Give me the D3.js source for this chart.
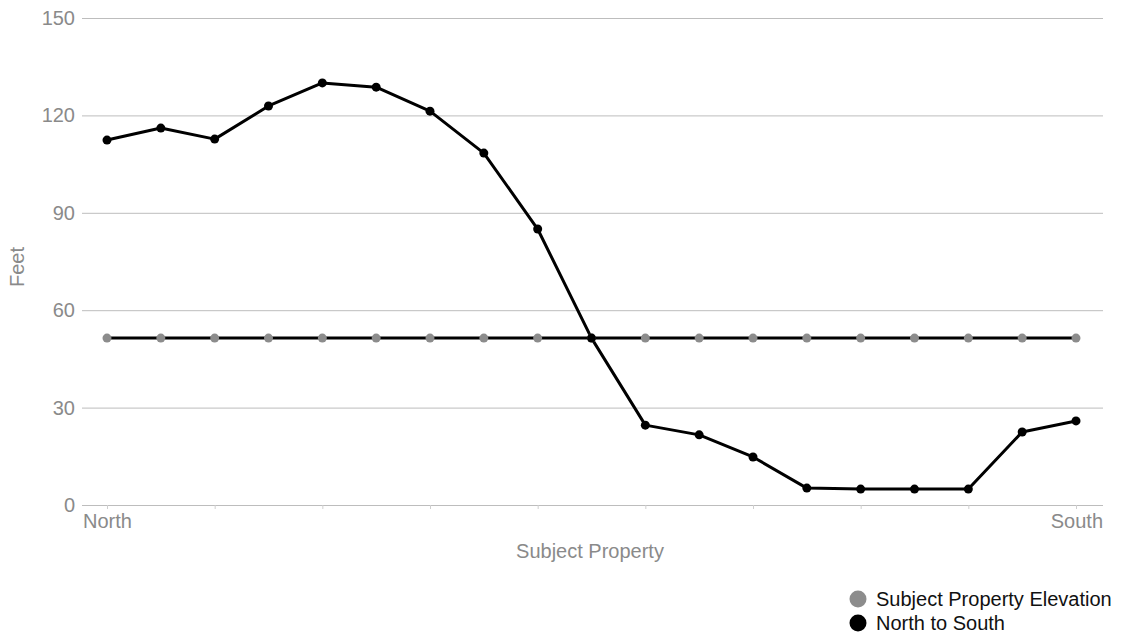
<!DOCTYPE html>
<html>
<head>
<meta charset="utf-8">
<script src="https://cdn.jsdelivr.net/npm/d3@7"></script>
<style>
  body { margin: 0; background: #fff; }
  text { font-family: "Liberation Sans", Arial, sans-serif; }
</style>
</head>
<body>
<div id="chart"></div>
<script>
const positions = d3.range(19);
const northToSouth = [112.4, 116.1, 112.7, 122.9, 130, 128.7, 121.3, 108.4, 85, 51.4,
  24.6, 21.6, 14.8, 5.2, 4.9, 4.9, 4.9, 22.5, 25.9];
const elevation = positions.map(() => 51.4);
const yTicks = [0, 30, 60, 90, 120, 150];
const seriesNames = ["Subject Property Elevation", "North to South"];

const width = 1121, height = 641;
const svg = d3.select("#chart").append("svg")
    .attr("width", width)
    .attr("height", height);

const x = d3.scaleLinear().domain([0, 18]).range([107, 1076]);
const y = d3.scaleLinear().domain([0, 150]).range([505, 18]);

// gridlines
svg.append("g")
    .attr("transform", "translate(82,0)")
    .call(d3.axisLeft(y).tickValues(yTicks).tickSize(-1021).tickPadding(7))
    .call(g => g.select(".domain").remove())
    .call(g => g.selectAll(".tick line").attr("stroke", "#bdbdbd"))
    .call(g => g.selectAll(".tick text").attr("fill", "#8a8a8a").attr("font-size", 20));

// x ticks every other point
svg.append("g")
    .attr("transform", "translate(0,505)")
    .call(d3.axisBottom(x).tickValues(d3.range(0, 19, 2)).tickSize(4).tickFormat(""))
    .call(g => g.select(".domain").remove())
    .call(g => g.selectAll(".tick line").attr("stroke", "#cfcfcf"));

svg.append("text").attr("x", 83).attr("y", 528).attr("fill", "#8a8a8a")
    .attr("font-size", 20).text("North");
svg.append("text").attr("x", 1103).attr("y", 528).attr("fill", "#8a8a8a")
    .attr("font-size", 20).attr("text-anchor", "end").text("South");

svg.append("text").attr("x", 590).attr("y", 558).attr("fill", "#8a8a8a")
    .attr("font-size", 20).attr("text-anchor", "middle").text("Subject Property");
svg.append("text").attr("transform", "translate(24,267) rotate(-90)")
    .attr("fill", "#8a8a8a").attr("font-size", 20).attr("text-anchor", "middle").text("Feet");

const line = d3.line().x((d, i) => x(i)).y(d => y(d));

svg.append("path").datum(elevation).attr("d", line)
    .attr("fill", "none").attr("stroke", "#000").attr("stroke-width", 3);
svg.append("path").datum(northToSouth).attr("d", line)
    .attr("fill", "none").attr("stroke", "#000").attr("stroke-width", 3)
    .attr("stroke-linejoin", "round");

svg.append("g").selectAll("circle").data(elevation).join("circle")
    .attr("cx", (d, i) => x(i)).attr("cy", d => y(d)).attr("r", 4.5)
    .attr("fill", "#8c8c8c");
svg.append("g").selectAll("circle").data(northToSouth).join("circle")
    .attr("cx", (d, i) => x(i)).attr("cy", d => y(d)).attr("r", 4.5)
    .attr("fill", "#000");

// legend
const legend = svg.append("g").selectAll("g").data(seriesNames).join("g")
    .attr("transform", (d, i) => `translate(858,${599 + i * 24})`);
legend.append("circle").attr("r", 8.5).attr("fill", (d, i) => i === 0 ? "#8c8c8c" : "#000");
legend.append("text").attr("x", 18).attr("y", 7).attr("font-size", 20)
    .attr("fill", "#111").text(d => d);
</script>
</body>
</html>
